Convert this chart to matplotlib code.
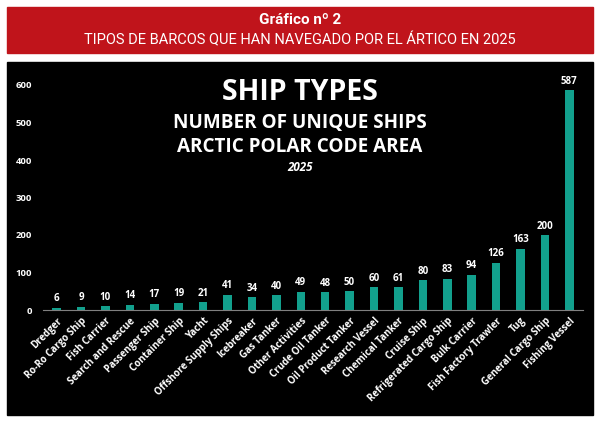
import matplotlib.pyplot as plt
from matplotlib.patches import Rectangle

ship_types = [
    "Dredger", "Ro-Ro Cargo Ship", "Fish Carrier", "Search and Rescue",
    "Passenger Ship", "Container Ship", "Yacht", "Offshore Supply Ships",
    "Icebreaker", "Gas Tanker", "Other Activities", "Crude Oil Tanker",
    "Oil Product Tanker", "Research Vessel", "Chemical Tanker", "Cruise Ship",
    "Refrigerated Cargo Ship", "Bulk Carrier", "Fish Factory Trawler", "Tug",
    "General Cargo Ship", "Fishing Vessel",
]
unique_ships = [6, 9, 10, 14, 17, 19, 21, 41, 34, 40, 49, 48, 50, 60, 61, 80,
                83, 94, 126, 163, 200, 587]
y_ticks = [0, 100, 200, 300, 400, 500, 600]

W, H = 600, 423
FONT = ["Open Sans", "DejaVu Sans"]
HEAD_FONT = ["Roboto", "DejaVu Sans"]
TEAL = "#12a08d"
RED = "#c0141b"

fig = plt.figure(figsize=(W / 100, H / 100), dpi=100, facecolor="white")


def px(x0, y0, x1, y1):
    # pixel box (top-left origin) -> figure fraction rect
    return [x0 / W, 1 - y1 / H, (x1 - x0) / W, (y1 - y0) / H]


# header band + black panel, kept behind the axes
fig.patches.append(Rectangle((7 / W, 1 - 53 / H), 586 / W, 46 / H,
                             transform=fig.transFigure, color=RED, zorder=-10))
fig.patches.append(Rectangle((7 / W, 1 - 415 / H), 586 / W, 353 / H,
                             transform=fig.transFigure, color="black", zorder=-10))

fig.text(0.5, 1 - 20 / H, "Gráfico nº 2", ha="center", va="center",
         color="white", fontsize=11, fontweight="bold", family=HEAD_FONT)
fig.text(0.5, 1 - 40 / H, "TIPOS DE BARCOS QUE HAN NAVEGADO POR EL ÁRTICO EN 2025",
         ha="center", va="center", color="white", fontsize=10.5, family=HEAD_FONT)

n = len(ship_types)
ax = fig.add_axes(px(43, 85, 583, 310))
ax.set_facecolor("none")
ax.bar(range(n), unique_ships, width=0.35, color=TEAL, zorder=2)
for i, v in enumerate(unique_ships):
    ax.text(i, v + 9, str(v), ha="center", va="bottom", color="white",
            fontsize=7, fontweight="bold", family=FONT, clip_on=False)

ax.set_xlim(-0.56, n - 0.44)
ax.set_ylim(0, 600)
ax.set_yticks(y_ticks)
ax.set_yticklabels([str(t) for t in y_ticks], color="white", fontsize=6.8,
                   fontweight="bold", family=FONT)
ax.set_xticks(range(n))
ax.set_xticklabels(ship_types, rotation=45, ha="right", rotation_mode="anchor",
                   color="white", fontsize=7, fontweight="bold", family=FONT)
ax.tick_params(length=0, pad=4)
ax.tick_params(axis="y", pad=8)
for s in ["top", "right", "left"]:
    ax.spines[s].set_visible(False)
ax.spines["bottom"].set_color("#808080")
ax.spines["bottom"].set_linewidth(0.8)

fig.text(0.5, 1 - 92 / H, "SHIP TYPES", ha="center", va="center",
         color="white", fontsize=20.5, fontweight="bold", family=FONT)
fig.text(0.5, 1 - 123 / H, "NUMBER OF UNIQUE SHIPS", ha="center", va="center",
         color="white", fontsize=13.6, fontweight="bold", family=FONT)
fig.text(0.5, 1 - 147 / H, "ARCTIC POLAR CODE AREA", ha="center", va="center",
         color="white", fontsize=13.6, fontweight="bold", family=FONT)
fig.text(0.5, 1 - 167 / H, "2025", ha="center", va="center",
         color="white", fontsize=8.4, fontweight="bold", style="italic", family=FONT)

fig.savefig("out.png", dpi=100, facecolor="white")
